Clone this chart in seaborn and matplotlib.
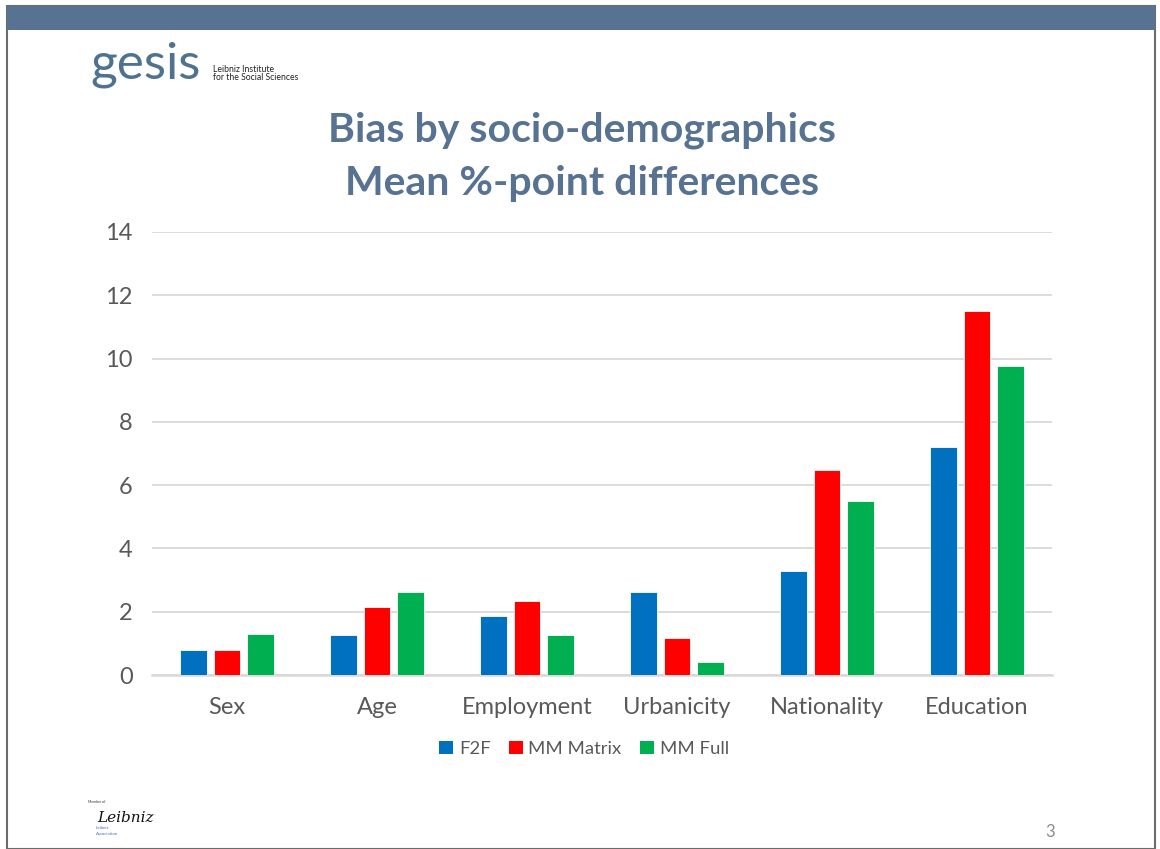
import matplotlib
matplotlib.use("Agg")
import matplotlib.pyplot as plt
from matplotlib.patches import Rectangle
import seaborn as sns
import pandas as pd

# Categories and mean %-point differences per survey mode
categories = ["Sex", "Age", "Employment", "Urbanicity", "Nationality", "Education"]
f2f = [0.80, 1.25, 1.85, 2.62, 3.29, 7.19]
mm_matrix = [0.80, 2.16, 2.33, 1.18, 6.48, 11.51]
mm_full = [1.30, 2.62, 1.25, 0.42, 5.49, 9.78]
series_names = ["F2F", "MM Matrix", "MM Full"]
y_ticks = [0, 2, 4, 6, 8, 10, 12, 14]

colors = ["#0070C0", "#FF0000", "#00B050"]
slate = "#587391"
gray_text = "#595959"
grid_gray = "#D9D9D9"

df = pd.DataFrame({
    "category": categories * 3,
    "mode": [series_names[0]] * 6 + [series_names[1]] * 6 + [series_names[2]] * 6,
    "value": f2f + mm_matrix + mm_full,
})

sns.set_theme(style="white")
plt.rcParams["font.family"] = ["Lato", "DejaVu Sans"]

W, H = 1160, 849
fig = plt.figure(figsize=(W / 100, H / 100), dpi=100)
fig.patch.set_facecolor("white")

# Slide frame and header band
fig.patches.append(Rectangle((7 / W, 0), (1155 - 7) / W, 1 - 6 / H, transform=fig.transFigure,
                             fill=False, edgecolor="#6b6b6b", linewidth=1.5, zorder=0))
fig.patches.append(Rectangle((7 / W, 1 - 30 / H), (1155 - 7) / W, 24 / H, transform=fig.transFigure,
                             facecolor=slate, edgecolor="none", zorder=1))

# Chart area
ax_left, ax_right, ax_top, ax_bottom = 152, 1052, 232, 675
ax = fig.add_axes([ax_left / W, 1 - ax_bottom / H, (ax_right - ax_left) / W, (ax_bottom - ax_top) / H])

sns.barplot(data=df, x="category", y="value", hue="mode", palette=colors, saturation=1,
            order=categories, hue_order=series_names, width=0.667, gap=0.2,
            edgecolor="white", linewidth=0.6, ax=ax, legend=False, zorder=3)

ax.set_ylim(0, 14)
ax.set_xlim(-0.5, len(categories) - 0.5)
ax.set_yticks(y_ticks)
ax.set_yticklabels([str(t) for t in y_ticks])
ax.grid(axis="y", color=grid_gray, linewidth=1.3, zorder=0)
ax.set_axisbelow(True)
for side in ["top", "right", "left"]:
    ax.spines[side].set_visible(False)
ax.spines["bottom"].set_color(grid_gray)
ax.spines["bottom"].set_linewidth(1.8)
ax.tick_params(axis="y", length=0, pad=14, labelsize=17, labelcolor=gray_text)
ax.tick_params(axis="x", length=0, pad=16, labelsize=17, labelcolor=gray_text)
ax.set_xlabel("")
ax.set_ylabel("")

# Legend
handles = [Rectangle((0, 0), 1, 1, facecolor=c, edgecolor="none") for c in colors]
fig.legend(handles, series_names, loc="center", bbox_to_anchor=(584 / W, 1 - 749 / H),
           ncol=3, frameon=False, fontsize=13.3, labelcolor=gray_text,
           handlelength=0.75, handleheight=0.75, handletextpad=0.3, columnspacing=1.0)

# Title
fig.text(582 / W, 1 - 130 / H, "Bias by socio-demographics", ha="center", va="center",
         fontsize=29.5, fontweight="bold", color=slate)
fig.text(582 / W, 1 - 183 / H, "Mean %-point differences", ha="center", va="center",
         fontsize=29.5, fontweight="bold", color=slate)

# Institute logo
fig.text(90 / W, 1 - 79 / H, "gesis", ha="left", va="baseline", fontsize=37,
         color="#4f7290")
fig.text(213 / W, 1 - 72 / H, "Leibniz Institute", ha="left", va="baseline", fontsize=6.2, color="#222222")
fig.text(213 / W, 1 - 80 / H, "for the Social Sciences", ha="left", va="baseline", fontsize=6.2, color="#222222")

# Association mark
fig.text(88 / W, 1 - 803 / H, "Member of", ha="left", va="baseline", fontsize=2.5, color="#333333")
fig.text(97 / W, 1 - 822 / H, "Leibniz", ha="left", va="baseline", fontsize=11, style="italic",
         color="#111111", family=["DejaVu Serif"])
fig.text(96 / W, 1 - 829 / H, "Leibniz", ha="left", va="baseline", fontsize=3.2, color="#4a72b0")
fig.text(96 / W, 1 - 835 / H, "Association", ha="left", va="baseline", fontsize=3.2, color="#4a72b0")

# Page number
fig.text(1050 / W, 1 - 832 / H, "3", ha="center", va="center", fontsize=12, color="#8c8c8c")

fig.savefig("out.png", dpi=100)
